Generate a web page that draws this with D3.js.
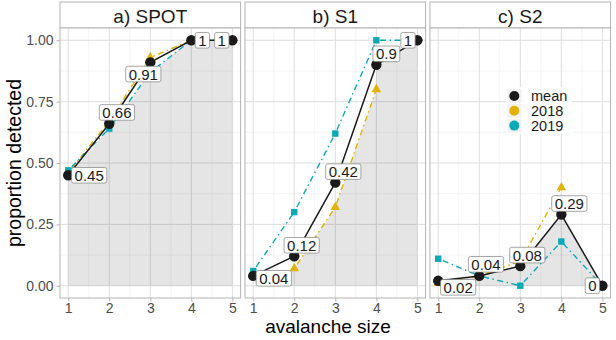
<!DOCTYPE html>
<html><head><meta charset="utf-8">
<script src="https://cdn.jsdelivr.net/npm/d3@7"></script>
<style>body{margin:0;background:#fff}svg{display:block;font-family:"Liberation Sans",Arial,sans-serif}</style>
</head><body><svg id="c" width="616" height="340"></svg>
<script>
// ---- data ----
const sizes = [1, 2, 3, 4, 5];
const panelTitles = ["a) SPOT", "b) S1", "c) S2"];
const seriesNames = ["mean", "2018", "2019"];
const yTicks = [0, 0.25, 0.5, 0.75, 1];

const meanSPOT = [0.45, 0.66, 0.91, 1, 1];
const y2018SPOT = [0.46, 0.67, 0.93, 1, 1];
const y2019SPOT = [0.47, 0.64, 0.87, 1, 1];
const shadeSPOTx = [1, 2, 3, 4, 5];
const shadeSPOTy = [0.45, 0.64, 0.87, 1, 1];

const meanS1 = [0.04, 0.12, 0.42, 0.9, 1];
const y2018S1 = [null, 0.07, 0.32, 0.80, null];
const y2019S1 = [0.06, 0.30, 0.62, 1.0, 1.0];
const shadeS1x = [1, 2, 3, 4, 4, 5];
const shadeS1y = [0, 0.07, 0.32, 0.80, 0.90, 1];

const meanS2 = [0.02, 0.04, 0.08, 0.29, 0];
const y2018S2 = [0.01, 0.04, 0.10, 0.40, null];
const y2019S2 = [0.11, 0.04, 0.0, 0.18, 0.0];
const shadeS2x = [1, 2, 3, 4, 5];
const shadeS2y = [0.02, 0.04, 0.08, 0.29, 0];

// ---- layout (pixels) ----
const colors = {mean: "#1a1a1a", "2018": "#E3B200", "2019": "#0AA9B6"};
const panelLeft = [60, 245, 430], panelW = 180.6, pTop = 28, pBottom = 298;
// label nudges (px) relative to the mean point
const nudges = [
  [[21, 0], [7.7, -11.3], [-7, 11.7], [11, 0], [-10.6, 0]],
  [[20.6, 2.4], [7.4, -11], [8, -11], [10, -11], [-9.4, 0]],
  [[20, 6.5], [6.7, -11.6], [7, -11], [8, -11], [-10, 0]]
];

const panels = [
  {title: panelTitles[0], mean: meanSPOT, s18: y2018SPOT, s19: y2019SPOT, sx: shadeSPOTx, sy: shadeSPOTy},
  {title: panelTitles[1], mean: meanS1, s18: y2018S1, s19: y2019S1, sx: shadeS1x, sy: shadeS1y},
  {title: panelTitles[2], mean: meanS2, s18: y2018S2, s19: y2019S2, sx: shadeS2x, sy: shadeS2y}
];

const svg = d3.select("#c");
const y = d3.scaleLinear().domain([-0.05, 1.05]).range([pBottom, pTop]);
const minorY = [0.125, 0.375, 0.625, 0.875];
const minorX = [1.5, 2.5, 3.5, 4.5];

panels.forEach((p, i) => {
  const L = panelLeft[i];
  const x = d3.scaleLinear().domain([0.8, 5.2]).range([L, L + panelW]);
  const g = svg.append("g");
  // strip
  g.append("rect").attr("x", L).attr("y", 2).attr("width", panelW).attr("height", pTop - 2)
    .attr("fill", "#fff").attr("stroke", "#b3b3b3").attr("stroke-width", 1);
  g.append("text").attr("x", L + panelW / 2).attr("y", 22.5).attr("text-anchor", "middle")
    .attr("font-size", 19).attr("fill", "#1a1a1a").text(p.title);
  // panel bg
  g.append("rect").attr("x", L).attr("y", pTop).attr("width", panelW).attr("height", pBottom - pTop).attr("fill", "#fff");
  // grid
  minorY.forEach(v => g.append("line").attr("x1", L).attr("x2", L + panelW).attr("y1", y(v)).attr("y2", y(v)).attr("stroke", "#ededed").attr("stroke-width", 0.6));
  minorX.forEach(v => g.append("line").attr("y1", pTop).attr("y2", pBottom).attr("x1", x(v)).attr("x2", x(v)).attr("stroke", "#ededed").attr("stroke-width", 0.6));
  yTicks.forEach(v => g.append("line").attr("x1", L).attr("x2", L + panelW).attr("y1", y(v)).attr("y2", y(v)).attr("stroke", "#dedede").attr("stroke-width", 1));
  sizes.forEach(v => g.append("line").attr("y1", pTop).attr("y2", pBottom).attr("x1", x(v)).attr("x2", x(v)).attr("stroke", "#dedede").attr("stroke-width", 1));
  // shade
  const shade = p.sx.map((v, k) => [v, p.sy[k]]);
  g.append("path").datum(shade)
    .attr("d", d3.area().x(d => x(d[0])).y0(y(0)).y1(d => y(d[1])))
    .attr("fill", "#000").attr("fill-opacity", 0.1);
  // series lines
  const line = d3.line().defined(d => d[1] != null).x(d => x(d[0])).y(d => y(d[1]));
  const pts = arr => sizes.map((s, k) => [s, arr[k]]);
  [["2018", p.s18], ["2019", p.s19]].forEach(([name, arr]) => {
    g.append("path").datum(pts(arr)).attr("d", line).attr("fill", "none")
      .attr("stroke", colors[name]).attr("stroke-width", 1.4).attr("stroke-dasharray", "1.5,3.5,6,3.5");
  });
  g.append("path").datum(pts(p.mean)).attr("d", line).attr("fill", "none")
    .attr("stroke", colors.mean).attr("stroke-width", 1.5);
  // points
  pts(p.s18).filter(d => d[1] != null).forEach(d => {
    g.append("path").attr("d", d3.symbol(d3.symbolTriangle, 40)())
      .attr("transform", `translate(${x(d[0])},${y(d[1])})`).attr("fill", colors["2018"]);
  });
  pts(p.s19).filter(d => d[1] != null).forEach(d => {
    g.append("rect").attr("x", x(d[0]) - 3.2).attr("y", y(d[1]) - 3.2).attr("width", 6.4).attr("height", 6.4)
      .attr("fill", colors["2019"]);
  });
  pts(p.mean).forEach(d => {
    g.append("circle").attr("cx", x(d[0])).attr("cy", y(d[1])).attr("r", 5.2).attr("fill", colors.mean);
  });
  // labels
  pts(p.mean).forEach((d, k) => {
    const cx = x(d[0]) + nudges[i][k][0], cy = y(d[1]) + nudges[i][k][1];
    const lg = g.append("g");
    const t = lg.append("text").attr("x", cx).attr("y", cy).attr("text-anchor", "middle")
      .attr("dominant-baseline", "central").attr("font-size", 15).attr("fill", "#1a1a1a").text(String(d[1]));
    const w = t.node().getComputedTextLength() + 6;
    lg.insert("rect", "text").attr("x", cx - w / 2).attr("y", cy - 7.8).attr("width", w).attr("height", 15.6)
      .attr("rx", 2).attr("fill", "#fff").attr("stroke", "#7f7f7f").attr("stroke-width", 0.7);
  });
  // border
  g.append("rect").attr("x", L).attr("y", pTop).attr("width", panelW).attr("height", pBottom - pTop)
    .attr("fill", "none").attr("stroke", "#b3b3b3").attr("stroke-width", 1);
  // x axis
  const xa = svg.append("g").attr("transform", `translate(0,${pBottom})`)
    .call(d3.axisBottom(x).tickValues(sizes).tickFormat(d3.format("d")).tickSize(3.5).tickPadding(1.5));
  xa.select(".domain").remove();
  xa.selectAll("line").attr("stroke", "#b3b3b3");
  xa.selectAll("text").attr("font-size", 14).attr("fill", "#4d4d4d").attr("font-family", "Liberation Sans, Arial, sans-serif");
  if (i === 0) {
    const ya = svg.append("g").attr("transform", `translate(${L},0)`)
      .call(d3.axisLeft(y).tickValues(yTicks).tickFormat(d3.format(".2f")).tickSize(3.5).tickPadding(3));
    ya.select(".domain").remove();
    ya.selectAll("line").attr("stroke", "#b3b3b3");
    ya.selectAll("text").attr("font-size", 14).attr("fill", "#4d4d4d").attr("font-family", "Liberation Sans, Arial, sans-serif");
  }
});

// legend (inside panel c)
const lgd = svg.append("g");
lgd.append("rect").attr("x", 506).attr("y", 87).attr("width", 66).attr("height", 47).attr("fill", "#fff");
seriesNames.forEach((n, k) => {
  const yy = 96 + k * 14.8;
  lgd.append("rect").attr("x", 507.5).attr("y", yy - 7).attr("width", 14).attr("height", 14).attr("fill", "#f2f2f2");
  lgd.append("circle").attr("cx", 514.3).attr("cy", yy).attr("r", 5).attr("fill", colors[n]);
  lgd.append("text").attr("x", 531).attr("y", yy).attr("dominant-baseline", "central")
    .attr("font-size", 14.5).attr("fill", "#1a1a1a").text(n);
});

// axis titles
svg.append("text").attr("x", 328).attr("y", 332.5).attr("text-anchor", "middle")
  .attr("font-size", 19).attr("fill", "#000").text("avalanche size");
svg.append("text").attr("transform", "translate(21,163) rotate(-90)").attr("text-anchor", "middle")
  .attr("font-size", 19.5).attr("fill", "#000").text("proportion detected");
</script></body></html>
